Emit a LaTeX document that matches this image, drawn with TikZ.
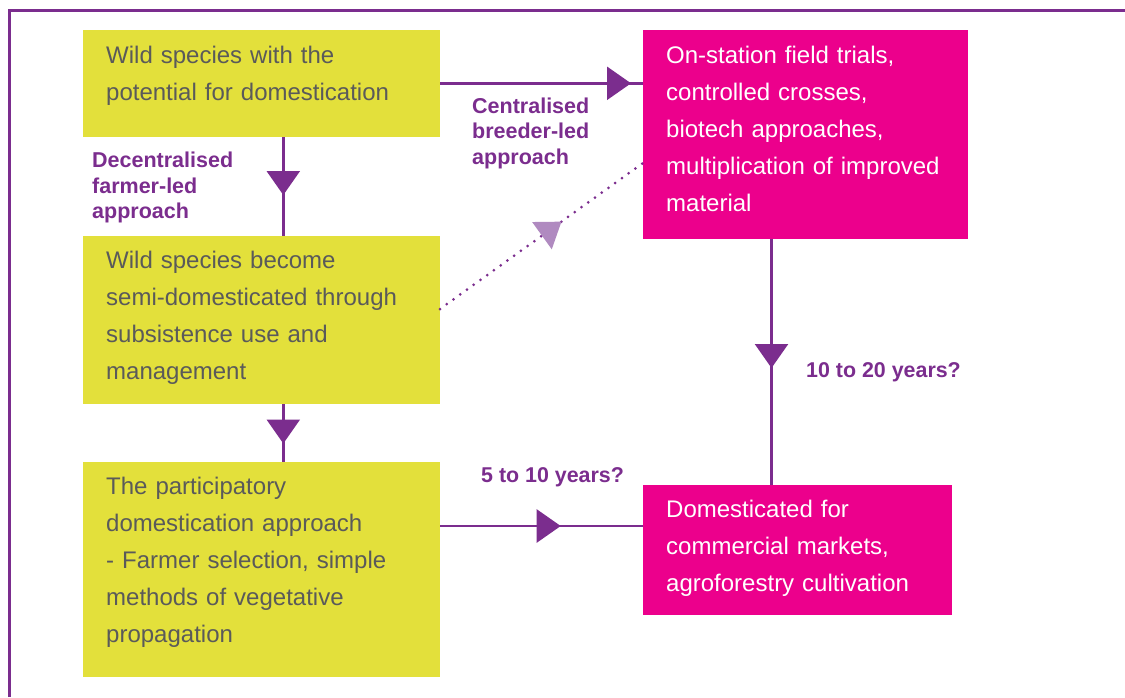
\documentclass[tikz,border=0pt]{standalone}
\usepackage{fontspec}
\setmainfont{Liberation Sans}
\usetikzlibrary{decorations.markings}
\definecolor{ylw}{HTML}{E3E03B}
\definecolor{mag}{HTML}{EC008C}
\definecolor{prp}{HTML}{7B2D8E}
\definecolor{lprp}{HTML}{B08AC0}
\definecolor{txtgray}{HTML}{5A5A5A}
\tikzset{
  ybox/.style={fill=ylw, draw=none, inner sep=0pt, outer sep=0pt, anchor=north west},
  mbox/.style={fill=mag, draw=none, inner sep=0pt, outer sep=0pt, anchor=north west},
  boxtext/.style={anchor=base west, inner sep=0pt, text width=340pt, align=left,
    font=\fontsize{24}{37}\selectfont},
  lbl/.style={anchor=base west, inner sep=0pt, text=prp, font=\bfseries\fontsize{21.5}{25.7}\selectfont, text width=200pt, align=left},
  yrs/.style={anchor=base west, inner sep=0pt, text=prp, font=\bfseries\fontsize{21.4}{25}\selectfont},
  conn/.style={draw=prp, line width=2.5pt},
  tri/.style={postaction={decorate, decoration={markings,
    mark=at position #1 with {\fill[prp] (0pt,0pt) -- (-24pt,16.8pt) -- (-24pt,-16.8pt) -- cycle;}}}},
  ltri/.style={postaction={decorate, decoration={markings,
    mark=at position #1 with {\fill[lprp] (0pt,0pt) -- (-24pt,16.8pt) -- (-24pt,-16.8pt) -- cycle;}}}},
  dots/.style={draw=prp, line width=3pt, line cap=round, dash pattern=on 0pt off 8.3pt}
}
\begin{document}
\begin{tikzpicture}[x=1pt, y=-1pt]
\useasboundingbox (0,0) rectangle (1125,697);
\fill[white] (0,0) rectangle (1125,697);
% frame
\draw[prp, line width=3pt] (9.5,697) -- (9.5,10.5) -- (1125,10.5);
% boxes
\node[ybox, minimum width=357pt, minimum height=107pt] (A) at (83,30) {};
\node[ybox, minimum width=357pt, minimum height=168pt] (B) at (83,236) {};
\node[ybox, minimum width=357pt, minimum height=215pt] (C) at (83,462) {};
\node[mbox, minimum width=325pt, minimum height=209pt] (D) at (643,30) {};
\node[mbox, minimum width=309pt, minimum height=130pt] (E) at (643,485) {};
% box texts
\node[boxtext, text=txtgray] (At) at (106,63) {Wild species with the\\potential for domestication};
\node[boxtext, text=txtgray] (Bt) at (106,268) {Wild species become\\semi-domesticated through\\subsistence use and\\management};
\node[boxtext, text=txtgray] (Ct) at (106,494) {The participatory\\domestication approach\\- Farmer selection, simple\\methods of vegetative\\propagation};
\node[boxtext, text=white, text width=300pt] (Dt) at (666,63) {On-station field trials,\\controlled crosses,\\biotech approaches,\\multiplication of improved\\material};
\node[boxtext, text=white, text width=285pt] (Et) at (666,517) {Domesticated for\\commercial markets,\\agroforestry cultivation};
% labels
\node[lbl] (L1) at (472,113) {Centralised\\breeder-led\\approach};
\node[lbl] (L2) at (92,167.5) {Decentralised\\farmer-led\\approach};
\node[yrs] (L3) at (806,377.5) {10 to 20 years?};
\node[yrs] (L4) at (481,482.3) {5 to 10 years?};
% connectors
\draw[conn, tri=58pt] ([xshift=200.3pt]A.south west) -- ([xshift=200.3pt]B.north west);
\draw[conn, tri=39.5pt] ([xshift=200.3pt]B.south west) -- ([xshift=200.3pt]C.north west);
\draw[conn, tri=191pt] ([yshift=-53.3pt]A.north east) -- ([yshift=-53.3pt]D.north west);
\draw[conn, tri=129pt] ([xshift=128.5pt]D.south west) -- ([xshift=128.5pt]E.north west);
\draw[conn, tri=120.7pt] ([yshift=-64pt]C.north east) -- ([yshift=-64pt]C.north east -| E.west);
\draw[dots, ltri=149.6pt] ([yshift=11pt]B.east) -- ([yshift=-133pt]D.north west);
\end{tikzpicture}
\end{document}
